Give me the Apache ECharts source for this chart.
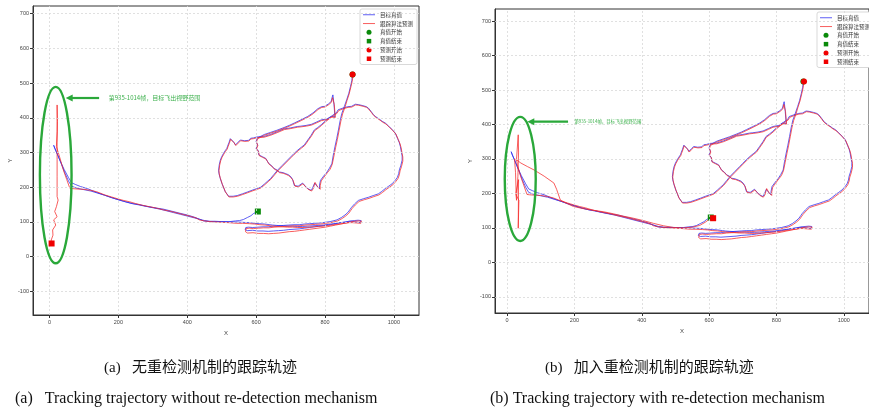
<!DOCTYPE html>
<html>
<head>
<meta charset="utf-8">
<script src="https://cdn.jsdelivr.net/npm/echarts@6/dist/echarts.min.js"></script>
<style>
    html, body { margin: 0; background: #fff; }
    #main { width: 869px; height: 411px; }
</style>
</head>
<body>
<div id="main"></div>
<script>
    // 目标真值轨迹 (x, y)
    var truthPath = [
        [880,525],[878,508],[874,490],[869,470],[863,452],[856,432],[849,413],[844,392],[839,365],[834,340],[829,317],[824,292],[820,268],[813,255],[806,244],[796,232],[787,220],[784,206],[784,196],
        [776,204],[770,212],[764,198],[760,191],[750,196],[742,204],[735,212],[730,210],[722,203],[711,205],[706,222],[701,230],[694,236],[686,239],[678,242],[667,244],[660,250],[652,254],[645,262],[637,268],[632,276],[628,283],[618,288],[608,293],[606,305],[600,312],[604,322],[600,332],[603,341],
        [612,346],[624,352],[642,358],[660,364],[681,372],[696,378],[711,385],[730,394],[750,404],[765,414],[779,426],[790,432],[799,433],[810,440],[818,447],[821,460],[823,466],[826,440],[829,403],
        [818,404],[806,397],[789,394],[776,388],[760,381],[745,378],[730,376],[720,375],[700,371],[681,368],[662,360],[642,352],[622,346],[603,345],
        [592,342],[584,341],[578,335],[574,331],[566,334],[554,336],[548,330],[540,322],[535,330],[530,331],[525,340],[521,328],[520,326],[517,318],[515,312],[510,305],[505,297],[500,288],[496,278],[493,265],[491,249],[492,240],[495,228],[501,210],[506,198],[510,188],[515,181],[520,174],[525,171],[533,174],[545,176],[560,181],[574,186],[590,192],[602,196],[613,200],[625,210],[634,218],[642,225],[652,237],[662,249],[676,263],[691,278],[700,287],[710,297],[721,307],[731,315],[740,322],[750,336],[760,350],[769,365],[779,372],[789,380],[800,390],[810,398],[818,404],[826,410],[833,414],[838,423],
        [852,428],[866,432],[877,433],[888,439],[897,438],[910,435],[920,432],[926,428],[934,418],[940,410],[946,404],[958,396],[966,390],[975,385],[985,376],[995,366],[1004,356],[1011,340],[1016,328],[1019,317],[1022,300],[1024,290],[1024,278],[1020,262],[1016,250],[1014,239],[1010,228],[1004,220],[995,210],[985,203],[975,196],[965,188],[955,181],[940,176],[926,171],[912,167],[897,162],[886,152],[877,142],[872,135],[867,128],[858,120],[848,113],
        [835,106],[815,101],[800,99],[785,97],[770,96],[755,95],[740,94],[725,92],[710,92],[695,91],[680,90],[665,89],[650,88],[635,86],[620,86],[605,85],[590,84],[578,85],[570,84],[568,78],[574,75],[590,76],[605,74],[620,74],[635,73],[650,74],[665,75],[680,76],[695,78],[710,79],[725,80],[740,82],[755,84],[770,86],[785,88],[800,90],[815,92],[830,95],[845,98],[860,100],[873,103],[885,104],[896,105],[905,104],[908,100],[902,98],[890,100],[878,101],[870,101],[855,99],[840,97],[825,95],[810,93],[795,91],[780,90],[765,89],[750,88],[735,87],[720,87],[705,88],[690,88],[675,89],[660,90],[648,91],[640,92],
        [625,94],[610,95],[595,96],[580,98],[560,99],[540,100],[520,100],[500,101],[480,102],[466,102],[450,104],[435,108],[420,112],[400,117],[380,122],[360,127],[340,132],[320,137],[300,141],[280,145],[260,149],[240,153],[220,158],[200,164],[180,170],[160,177],[140,183],[120,189],[100,193],[80,197],[64,203],[55,218],[45,240],[35,265],[25,290],[15,312],[12,321],
        [20,302],[30,278],[42,252],[55,228],[64,213],[75,208],[90,202],[110,196],[137,185],[160,177],[190,167],[214,160],[240,153],[260,150],[282,145],[310,140],[330,137],[355,131],[379,125],[400,120],[420,114],[435,108],[447,103],[465,101],[490,101],[510,101],[524,101],[540,103],[552,104],[563,107],[575,113],[585,118],[592,124],[600,128],[605,130]
    ];

    // 跟踪算法预测：两种情况共有的部分（目标飞出视野之前）
    var predShared = [
        [882,525],[879,505],[875,488],[870,468],[864,450],[858,430],[851,411],[846,390],[841,364],[836,338],[831,315],[826,290],[821,266],[815,252],[807,242],[797,229],[789,218],[786,204],[786,194],
        [778,202],[771,214],[766,196],[761,189],[751,194],[743,202],[736,210],[731,208],[723,201],[713,203],[707,220],[702,227],[695,233],[687,237],[679,240],[668,242],[661,248],[653,252],[646,260],[638,266],[633,274],[629,281],[619,286],[609,291],[607,303],[601,310],[605,320],[601,330],[604,339],
        [613,344],[625,350],[643,356],[661,362],[682,370],[697,376],[712,383],[731,392],[751,402],[766,412],[780,424],[791,430],[800,431],[811,438],[819,445],[822,458],[824,463],[827,438],[830,401],
        [819,402],[807,395],[790,392],[777,386],[761,379],[746,376],[731,374],[721,373],[701,369],[682,366],[663,358],[643,350],[623,344],[604,343],
        [593,340],[585,339],[579,333],[575,329],[567,332],[555,334],[549,328],[541,320],[536,328],[531,329],[526,338],[522,326],[521,324],[518,316],[516,310],[511,303],[506,295],[501,286],[497,276],[494,263],[492,247],[493,238],[496,226],[502,208],[507,196],[511,186],[516,179],[521,172],[526,169],[534,172],[546,174],[561,179],[575,184],[591,190],[603,194],[614,198],[626,208],[635,216],[643,223],[653,235],[663,247],[677,261],[692,276],[701,285],[711,295],[722,305],[732,313],[741,320],[751,334],[761,348],[770,363],[780,370],[790,378],[801,388],[811,396],[819,402],[827,408],[834,412],[840,421],
        [853,426],[867,430],[878,431],[889,437],[898,436],[911,433],[921,430],[927,425],[935,415],[941,407],[948,401],[960,393],[968,387],[977,382],[987,373],[997,363],[1006,353],[1013,337],[1018,325],[1021,314],[1024,297],[1026,287],[1026,275],[1022,259],[1018,247],[1016,236],[1012,225],[1006,217],[997,207],[987,200],[977,193],[967,185],[957,178],[942,173],[928,168],[914,164],[899,159],[888,149],[879,139],[874,132],[869,125],[860,117],[850,110],
        [837,103],[817,98],[802,96],[787,94],[772,93],[757,92],[742,91],[727,89],[712,89],[697,88],[682,87],[667,86],[652,85],[637,83],[622,83],[607,82],[592,81],[580,82],[571,81],[569,72],[575,68],[591,69],[606,67],[621,67],[636,66],[651,67],[666,68],[681,70],[696,72],[711,73],[726,75],[741,77],[756,79],[771,81],[786,83],[801,85],[816,88],[831,91],[846,94],[861,97],[874,100],[886,102],[897,103],[906,102],[910,98],[904,96],[892,97],[880,98],[871,98],[856,96],[841,94],[826,92],[811,90],[796,88],[781,87],[766,86],[751,85],[736,84],[721,84],[706,85],[691,85],[676,86],[661,87],[649,88],[641,89],
        [626,91],[611,92],[596,94],[581,95],[561,96],[544,96],[520,98],[500,99],[480,100],[466,101],[450,103],[435,106],[427,111],[410,116],[390,121],[370,126],[350,131],[330,135],[310,140],[290,144],[270,148],[250,153],[233,158],[215,162],[200,166],[180,172],[160,178],[137,187],[120,191],[100,194],[80,195],[66,196],[59,197]
    ];

    // (a) 无重检测：预测框停留在视野边缘
    var predTailA = [
        [50,222],[40,250],[30,285],[20,317],[22,360],[22,437],[23,390],[22,330],[22,280],[22,230],[22,173],[25,163],[20,144],[15,130],[22,115],[12,106],[18,91],[9,77],[10,62],[5,48],[6,38]
    ];

    // (b) 加入重检测：重新找回目标
    var predTailB = [
        [50,222],[40,250],[30,285],[28,300],[33,370],[34,320],[32,250],[28,180],[26,200],[34,240],[33,99],[35,180],[27,195],[25,260],[22,300],[30,296],[41,288],[60,278],[80,268],[110,250],[139,230],[147,212],[158,181],[175,172],[197,162],[225,156],[255,151],[285,147],[315,141],[345,134],[375,128],[405,121],[435,113],[465,106],[495,101],[525,100],[550,102],[572,107],[588,116],[598,123],[606,127],[612,128]
    ];

    var truthStart = [880, 525];
    var truthEnd = [605, 130];
    var predStartA = [880, 525];
    var predEndA = [6, 38];
    var predStartB = [882, 525];
    var predEndB = [612, 128];

    // 刻度
    var xTicks = [0, 200, 400, 600, 800, 1000];
    var yTicks = [-100, 0, 100, 200, 300, 400, 500, 600, 700];

    var legendNames = ['目标真值', '跟踪算法预测', '真值开始', '真值结束', '预测开始', '预测结束'];
    var noteText = '第935-1014帧，目标飞出视野范围';

    var blue = 'rgba(40,40,240,0.75)';
    var red = 'rgba(245,40,40,0.75)';
    var green = '#0a8a0a';
    var annoGreen = '#2aa83a';

    function plainNum(v) {
        return String(v);
    }

    function makeX(idx, min, max) {
        return {
            gridIndex: idx, type: 'value', min: min, max: max,
            name: 'X', nameLocation: 'middle', nameGap: 14,
            nameTextStyle: {fontSize: 6, color: '#444'},
            axisLine: {show: true, onZero: false, lineStyle: {color: '#333', width: 1}},
            axisTick: {show: true, length: 3, customValues: xTicks, lineStyle: {color: '#333'}},
            axisLabel: {fontSize: 5.5, color: '#444', margin: 4, customValues: xTicks, formatter: plainNum},
            splitLine: {show: false}
        };
    }

    function makeY(idx, min, max, gap) {
        return {
            gridIndex: idx, type: 'value', min: min, max: max,
            name: 'Y', nameLocation: 'middle', nameGap: gap,
            nameTextStyle: {fontSize: 6, color: '#444'},
            axisLine: {show: true, onZero: false, lineStyle: {color: '#333', width: 1}},
            axisTick: {show: true, length: 3, customValues: yTicks, lineStyle: {color: '#333'}},
            axisLabel: {fontSize: 5.5, color: '#444', margin: 4, customValues: yTicks, formatter: plainNum},
            splitLine: {show: false}
        };
    }

    // 网格虚线（按刻度值画）
    function gridLines(idx) {
        var lines = [];
        xTicks.forEach(function (v) { lines.push({xAxis: v}); });
        yTicks.forEach(function (v) { lines.push({yAxis: v}); });
        return {
            type: 'line', xAxisIndex: idx, yAxisIndex: idx, data: [], silent: true, z: 1,
            markLine: {
                silent: true, symbol: 'none', label: {show: false}, animation: false,
                lineStyle: {color: '#d8d8d8', type: [2, 2], width: 0.8},
                data: lines
            }
        };
    }

    function plotSeries(idx, pred, predStart, predEnd) {
        return [
            gridLines(idx),
            {name: '目标真值', type: 'line', xAxisIndex: idx, yAxisIndex: idx, data: truthPath, symbol: 'none',
                lineStyle: {color: blue, width: 1}, itemStyle: {color: blue}, z: 2},
            {name: '跟踪算法预测', type: 'line', xAxisIndex: idx, yAxisIndex: idx, data: pred, symbol: 'none',
                lineStyle: {color: red, width: 1}, itemStyle: {color: red}, z: 3},
            {name: '真值开始', type: 'scatter', xAxisIndex: idx, yAxisIndex: idx, data: [truthStart],
                symbol: 'circle', symbolSize: 6, itemStyle: {color: green, opacity: 1}, z: 4},
            {name: '真值结束', type: 'scatter', xAxisIndex: idx, yAxisIndex: idx, data: [truthEnd],
                symbol: 'rect', symbolSize: 6, itemStyle: {color: green, opacity: 1}, z: 4},
            {name: '预测开始', type: 'scatter', xAxisIndex: idx, yAxisIndex: idx, data: [predStart],
                symbol: 'circle', symbolSize: 6, itemStyle: {color: '#f00000', opacity: 1}, z: 5},
            {name: '预测结束', type: 'scatter', xAxisIndex: idx, yAxisIndex: idx, data: [predEnd],
                symbol: 'rect', symbolSize: 6, itemStyle: {color: '#f00000', opacity: 1}, z: 5}
        ];
    }

    function makeLegend(left, top) {
        var lineIcon = 'path://M0,0M0,4h24v2H0zM24,10';
        var squareIcon = 'path://M0,0M7.5,0.5h9v9h-9zM24,10';
        return {
            orient: 'vertical', left: left, top: top, selectedMode: false,
            itemWidth: 12, itemHeight: 5, itemGap: 3.3,
            padding: [3, 4, 3, 3],
            backgroundColor: '#fff', borderColor: '#cfcfcf', borderWidth: 0.8, borderRadius: 2,
            textStyle: {fontSize: 5.5, color: '#333', fontFamily: 'Noto Sans CJK SC', lineHeight: 5},
            data: [
                {name: legendNames[0], icon: lineIcon},
                {name: legendNames[1], icon: lineIcon},
                {name: legendNames[2], icon: 'circle'},
                {name: legendNames[3], icon: squareIcon},
                {name: legendNames[4], icon: 'circle'},
                {name: legendNames[5], icon: squareIcon}
            ]
        };
    }

    var chart = echarts.init(document.getElementById('main'), null, {renderer: 'canvas'});

    var predA = predShared.concat(predTailA);
    var predB = predShared.concat(predTailB);

    var option = {
        animation: false,
        backgroundColor: '#fff',
        grid: [
            {left: 33, top: 6, right: 450, bottom: 96, show: true, borderColor: '#333', borderWidth: 1, backgroundColor: '#fff'},
            {left: 495, top: 9, right: -6, bottom: 98, show: true, borderColor: '#333', borderWidth: 1, backgroundColor: '#fff'}
        ],
        xAxis: [makeX(0, -48, 1073), makeX(1, -36, 1075)],
        yAxis: [makeY(0, -168, 722, 20), makeY(1, -147, 735, 22)],
        legend: [makeLegend(360, 9), makeLegend(817, 12)],
        series: plotSeries(0, predA, predStartA, predEndA).concat(plotSeries(1, predB, predStartB, predEndB))
    };
    chart.setOption(option);

    // 标注：椭圆、箭头、文字（用数据坐标换算成像素）
    var notes = [
        {grid: 0, center: [18, 235], rx: 46, ry: 254, arrowFrom: [144, 457], arrowTo: [47, 457], textAt: [172, 457], fontSize: 6},
        {grid: 1, center: [39, 242], rx: 46, ry: 180, arrowFrom: [181, 408], arrowTo: [60, 408], textAt: [200, 408], fontSize: 4.4}
    ];
    var graphics = [];
    notes.forEach(function (n) {
        var c = chart.convertToPixel({gridIndex: n.grid}, n.center);
        var e = chart.convertToPixel({gridIndex: n.grid}, [n.center[0] + n.rx, n.center[1] + n.ry]);
        var a0 = chart.convertToPixel({gridIndex: n.grid}, n.arrowFrom);
        var a1 = chart.convertToPixel({gridIndex: n.grid}, n.arrowTo);
        var t = chart.convertToPixel({gridIndex: n.grid}, n.textAt);
        graphics.push({
            type: 'ellipse', z: 20,
            shape: {cx: c[0], cy: c[1], rx: Math.abs(e[0] - c[0]), ry: Math.abs(c[1] - e[1])},
            style: {fill: 'none', stroke: annoGreen, lineWidth: 2.4}
        });
        graphics.push({
            type: 'line', z: 20,
            shape: {x1: a0[0], y1: a0[1], x2: a1[0] + 5, y2: a1[1]},
            style: {stroke: annoGreen, lineWidth: 2.2}
        });
        graphics.push({
            type: 'polygon', z: 20,
            shape: {points: [[a1[0], a1[1]], [a1[0] + 7, a1[1] - 3.5], [a1[0] + 7, a1[1] + 3.5]]},
            style: {fill: annoGreen}
        });
        graphics.push({
            type: 'text', z: 20, x: t[0], y: t[1],
            style: {text: noteText, fill: '#3cb04c', fontSize: n.fontSize, fontFamily: 'Noto Sans CJK SC', verticalAlign: 'middle'}
        });
    });

    // 子图标题
    var captionFont = "'Liberation Serif', 'Noto Sans CJK SC', serif";
    graphics.push(
        {type: 'text', x: 104, y: 368, style: {text: '(a)   无重检测机制的跟踪轨迹', fontSize: 15, fill: '#111', fontFamily: captionFont, verticalAlign: 'middle'}},
        {type: 'text', x: 15, y: 399, style: {text: '(a)   Tracking trajectory without re-detection mechanism', fontSize: 16, fill: '#111', fontFamily: captionFont, verticalAlign: 'middle'}},
        {type: 'text', x: 545, y: 368, style: {text: '(b)   加入重检测机制的跟踪轨迹', fontSize: 15, fill: '#111', fontFamily: captionFont, verticalAlign: 'middle'}},
        {type: 'text', x: 490, y: 399, style: {text: '(b) Tracking trajectory with re-detection mechanism', fontSize: 16, fill: '#111', fontFamily: captionFont, verticalAlign: 'middle'}}
    );
    chart.setOption({graphic: graphics});
</script>
</body>
</html>
